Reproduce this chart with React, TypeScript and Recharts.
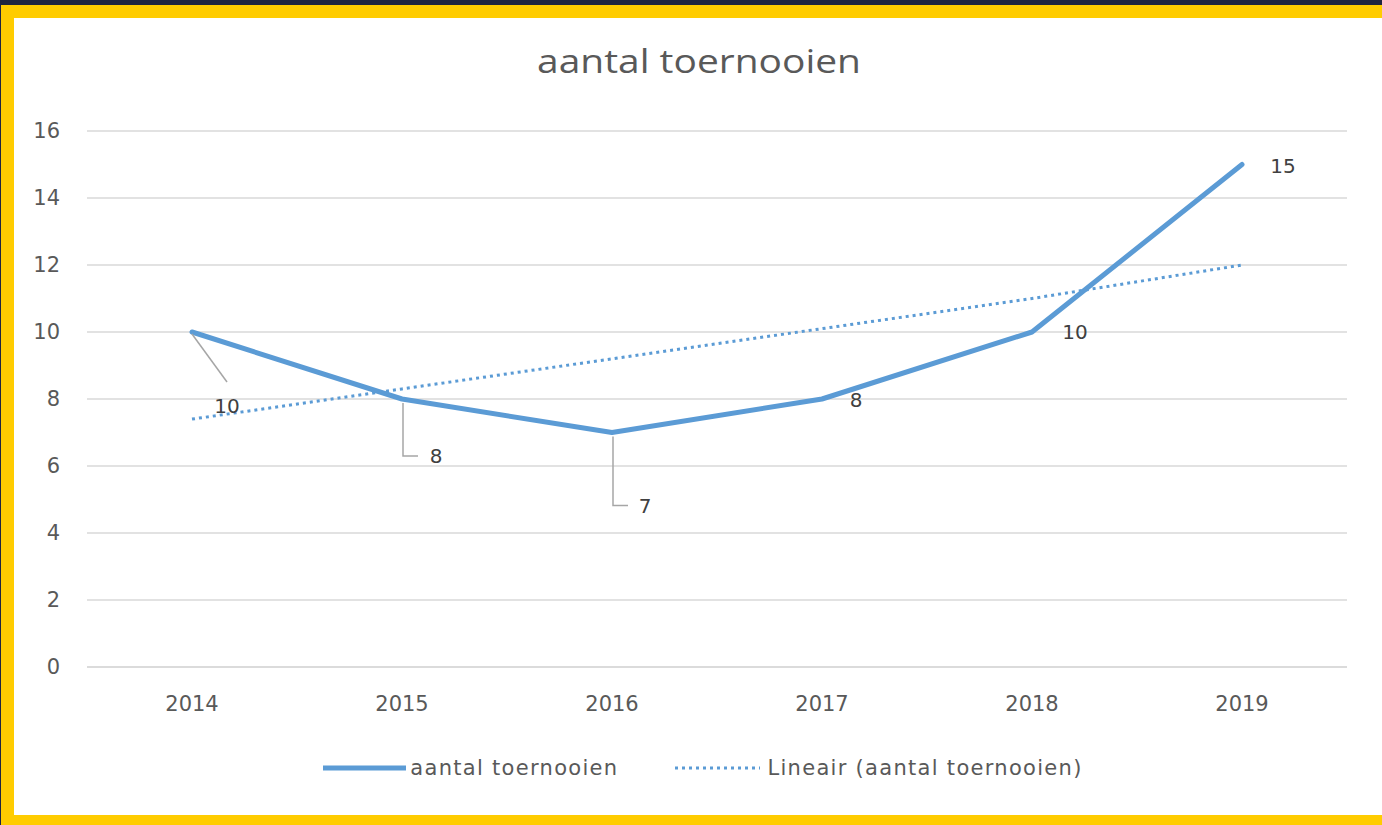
import { LineChart, Line, XAxis, YAxis, CartesianGrid, Legend, LabelList } from 'recharts'

const years = ['2014', '2015', '2016', '2017', '2018', '2019']
const tournaments = [10, 8, 7, 8, 10, 15]
// dotted linear trend
const trendValues = [7.4, 8.3, 9.2, 10.1, 11.0, 12.0]
const yTicks = [0, 2, 4, 6, 8, 10, 12, 14, 16]

const data = years.map((year, i) => ({ year, count: tournaments[i], trend: trendValues[i] }))

const BLUE = '#5b9bd5'
const TEXT = '#595959'
const FONT = '"DejaVu Sans", "Open Sans", sans-serif'

// where each data label sits relative to its point (px), and its leader line
const labelPlacement = [
  { dx: 35, dy: 74, leader: 'diag' },
  { dx: 34, dy: 57, leader: 'elbow' },
  { dx: 33, dy: 73, leader: 'elbow' },
  { dx: 34, dy: 1, leader: null },
  { dx: 43, dy: 0, leader: null },
  { dx: 41, dy: 1, leader: null },
]

const renderLabel = (props: any) => {
  const { x, y, value, index } = props
  const p = labelPlacement[index]
  if (!p) return null
  return (
    <g key={`lbl-${index}`}>
      {p.leader === 'diag' && (
        <line x1={x} y1={y + 2} x2={x + p.dx} y2={y + p.dy - 24} stroke="#a6a6a6" strokeWidth={1.5} />
      )}
      {p.leader === 'elbow' && (
        <path d={`M${x + 1},${y + 4} L${x + 1},${y + p.dy} L${x + 16},${y + p.dy}`} fill="none" stroke="#a6a6a6" strokeWidth={1.5} />
      )}
      <text x={x + p.dx} y={y + p.dy} textAnchor="middle" dominantBaseline="central"
        fontFamily={FONT} fontSize={20} fill="#404040">{value}</text>
    </g>
  )
}

const renderLegend = () => (
  <div style={{ display: 'flex', justifyContent: 'center', alignItems: 'center', height: 40, paddingLeft: 24, fontFamily: FONT, fontSize: 21, color: TEXT, letterSpacing: 1.3 }}>
    <svg width={83} height={10} style={{ marginRight: 4 }}>
      <line x1={0} y1={5} x2={83} y2={5} stroke={BLUE} strokeWidth={5} />
    </svg>
    <span>aantal toernooien</span>
    <svg width={86} height={10} style={{ marginLeft: 56, marginRight: 7 }}>
      <line x1={1} y1={5} x2={86} y2={5} stroke={BLUE} strokeWidth={3} strokeDasharray="3 4" />
    </svg>
    <span>Lineair (aantal toernooien)</span>
  </div>
)

export default function App() {
  return (
    <div style={{ position: 'absolute', left: 0, top: 0, width: 1382, height: 825, background: '#1f2540', overflow: 'hidden' }}>
      <div style={{ position: 'absolute', left: 1, top: 5, right: 0, bottom: 0, background: '#ffcc00' }} />
      <div style={{ position: 'absolute', left: 14, top: 18, width: 1368, height: 797, background: '#ffffff' }} />
      <div style={{ position: 'absolute', left: 699, top: 44, transform: 'translateX(-50%) scaleX(1.18)', fontFamily: '"Open Sans", sans-serif', fontSize: 33, lineHeight: '33px', color: TEXT, whiteSpace: 'nowrap' }}>
        aantal toernooien
      </div>
      <div style={{ position: 'absolute', left: 0, top: 0 }}>
        <LineChart width={1382} height={825} data={data} margin={{ top: 131, right: 35, bottom: 58, left: 27 }}>
          <CartesianGrid vertical={false} stroke="#d9d9d9" strokeWidth={1.5} />
          <XAxis dataKey="year" padding={{ left: 105, right: 105 }} axisLine={{ stroke: '#d9d9d9', strokeWidth: 1.5 }} tickLine={false}
            height={60} tickMargin={23} tick={{ fontFamily: FONT, fontSize: 21, fill: TEXT }} />
          <YAxis domain={[0, 16]} ticks={yTicks} width={60} axisLine={false} tickLine={false} tickMargin={21}
            tick={{ fontFamily: FONT, fontSize: 21, fill: TEXT }} />
          <Legend verticalAlign="bottom" content={renderLegend} wrapperStyle={{ top: 748, left: 0, width: 1382, height: 40 }} />
          <Line type="linear" dataKey="trend" name="Lineair (aantal toernooien)" stroke={BLUE} strokeWidth={3}
            strokeDasharray="3 4" dot={false} activeDot={false} isAnimationActive={false} />
          <Line type="linear" dataKey="count" name="aantal toernooien" stroke={BLUE} strokeWidth={5}
            strokeLinecap="round" strokeLinejoin="round" dot={false} activeDot={false} isAnimationActive={false}>
            <LabelList dataKey="count" content={renderLabel} />
          </Line>
        </LineChart>
      </div>
    </div>
  )
}
